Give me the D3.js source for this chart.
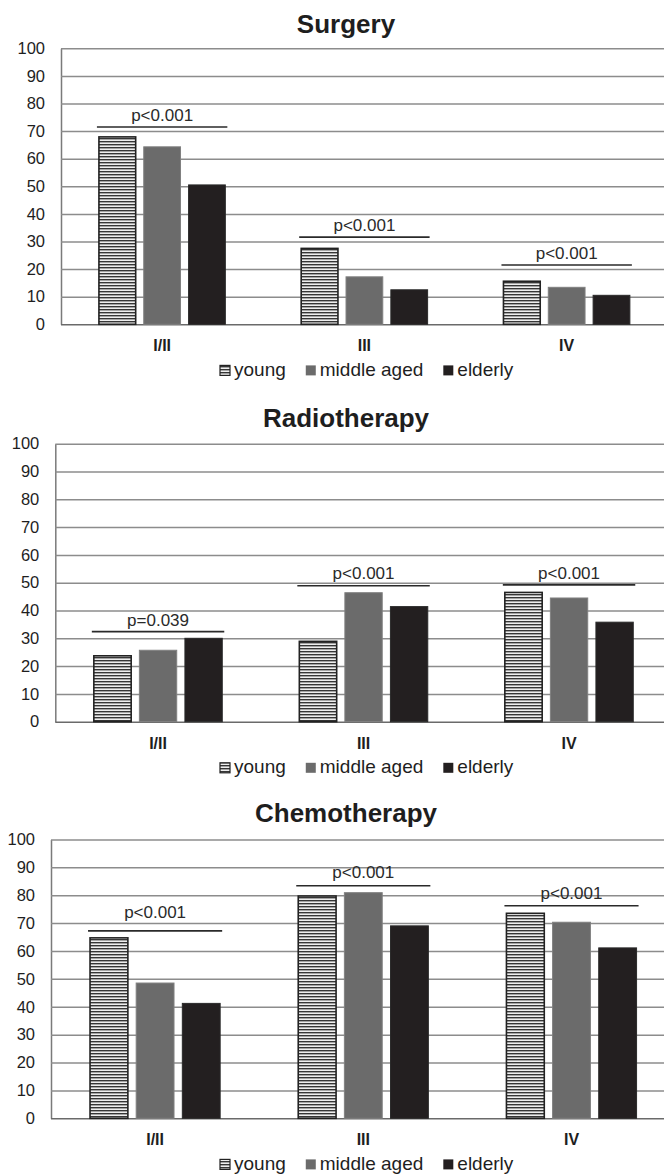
<!DOCTYPE html>
<html>
<head>
<meta charset="utf-8">
<script src="https://cdn.jsdelivr.net/npm/d3@7"></script>
<style>
  body { margin: 0; background: #fff; }
  svg { display: block; font-family: "Liberation Sans", Arial, sans-serif; }
</style>
</head>
<body>
<svg id="chart" width="664" height="1175"></svg>
<script>
// Categories and series
const stages = ["I/II", "III", "IV"];
const groups = ["young", "middle aged", "elderly"];
const yTicks = [0, 10, 20, 30, 40, 50, 60, 70, 80, 90, 100];

// Percentages per stage: [young, middle aged, elderly]
const surgeryValues = [[67.9, 64.3, 50.5], [27.5, 17.2, 12.5], [15.6, 13.4, 10.5]];
const radioValues   = [[23.7, 25.7, 30.0], [28.9, 46.4, 41.4], [46.5, 44.5, 35.8]];
const chemoValues   = [[64.7, 48.5, 41.2], [79.7, 80.9, 69.0], [73.5, 70.3, 61.1]];

// Significance annotations (text, bracket level, label level in data units)
const surgeryP = ["p<0.001", "p<0.001", "p<0.001"];
const radioP   = ["p=0.039", "p<0.001", "p<0.001"];
const chemoP   = ["p<0.001", "p<0.001", "p<0.001"];
const surgeryLine = [71.5, 31.6, 21.5];
const radioLine   = [32.4, 48.9, 49.2];
const chemoLine   = [67.2, 83.4, 76.2];
const surgeryLabel = [73.7, 33.8, 23.7];
const radioLabel   = [34.5, 51.5, 51.5];
const chemoLabel   = [71.7, 86.0, 78.5];

const panels = [
  { title: "Surgery", values: surgeryValues, p: surgeryP, line: surgeryLine, label: surgeryLabel,
    titleY: 32.5, top: 48.3, bottom: 324.3, left: 61, right: 667.8 },
  { title: "Radiotherapy", values: radioValues, p: radioP, line: radioLine, label: radioLabel,
    titleY: 427, top: 443.7, bottom: 721.7, left: 55.3, right: 671.8 },
  { title: "Chemotherapy", values: chemoValues, p: chemoP, line: chemoLine, label: chemoLabel,
    titleY: 822, top: 839.4, bottom: 1118.3, left: 51, right: 675.6 }
];

const fills = { "middle aged": "#6b6b6b", "elderly": "#231f20" };

const svg = d3.select("#chart");

// striped pattern for the "young" bars
const defs = svg.append("defs");
const pat = defs.append("pattern")
  .attr("id", "stripes")
  .attr("patternUnits", "userSpaceOnUse")
  .attr("width", 6).attr("height", 3);
pat.append("rect").attr("width", 6).attr("height", 3).attr("fill", "#eeeeee");
pat.append("rect").attr("width", 6).attr("height", 1.4).attr("fill", "#363636");

function fillFor(g) {
  return g === "young" ? "url(#stripes)" : fills[g];
}

panels.forEach(p => {
  const y = d3.scaleLinear().domain([0, 100]).range([p.bottom, p.top]);
  const x0 = d3.scaleBand().domain(stages).range([p.left, p.right]);
  const bw = x0.bandwidth();
  const gw = bw * 0.625;
  const x1 = d3.scaleBand().domain(groups).range([0, gw]).paddingInner(0.18);
  const off = (bw - gw) / 2;

  const g = svg.append("g");

  // gridlines via axis
  const yAxis = d3.axisLeft(y).tickValues(yTicks)
    .tickSize(-(p.right - p.left)).tickSizeOuter(0).tickPadding(16);
  const ax = g.append("g")
    .attr("transform", `translate(${p.left},0)`)
    .call(yAxis);
  ax.select(".domain").attr("stroke", "#7a7a7a").attr("stroke-width", 1.5);
  ax.selectAll(".tick line")
    .attr("stroke", d => d === 0 ? "#6a6a6a" : "#8c8c8c")
    .attr("stroke-width", 1.5);
  ax.selectAll(".tick text")
    .attr("fill", "#1e1e1e")
    .style("font-size", "16.5px")
    .style("font-family", "'Liberation Sans', Arial, sans-serif");

  // title
  g.append("text")
    .attr("x", 346).attr("y", p.titleY)
    .attr("text-anchor", "middle")
    .attr("fill", "#1e1e1e")
    .style("font-size", "26px").style("font-weight", "700")
    .text(p.title);

  // bars
  stages.forEach((s, si) => {
    const sg = g.append("g").attr("transform", `translate(${x0(s) + off},0)`);
    sg.selectAll("rect")
      .data(groups.map((grp, gi) => ({ grp, v: p.values[si][gi] })))
      .enter().append("rect")
      .attr("x", d => x1(d.grp))
      .attr("y", d => y(d.v))
      .attr("width", x1.bandwidth())
      .attr("height", d => y(0) - y(d.v))
      .attr("fill", d => fillFor(d.grp))
      .attr("stroke", d => d.grp === "young" ? "#222" : d.grp === "elderly" ? "#2a2a2a" : "#808080")
      .attr("stroke-width", d => d.grp === "young" ? 1.6 : 1);

    // significance bracket
    const lx1 = x0(s) + off - 2;
    const lx2 = x0(s) + off + gw + 2;
    g.append("line")
      .attr("x1", lx1).attr("x2", lx2)
      .attr("y1", y(p.line[si])).attr("y2", y(p.line[si]))
      .attr("stroke", "#2a2a2a").attr("stroke-width", 1.6);
    g.append("text")
      .attr("x", x0(s) + bw / 2).attr("y", y(p.label[si]))
      .attr("text-anchor", "middle")
      .attr("fill", "#2a2a2a")
      .style("font-size", "17px")
      .text(p.p[si]);

    // category label
    g.append("text")
      .attr("x", x0(s) + bw / 2).attr("y", p.bottom + 27)
      .attr("text-anchor", "middle")
      .attr("fill", "#1e1e1e")
      .style("font-size", "16px").style("font-weight", "700")
      .text(s);
  });

  // legend
  const ly = p.bottom + 51.6;
  let lx = 220;
  groups.forEach(grp => {
    g.append("rect")
      .attr("x", lx).attr("y", ly - 10.5)
      .attr("width", 10).attr("height", 10)
      .attr("fill", fillFor(grp))
      .attr("stroke", grp === "young" ? "#222" : "none")
      .attr("stroke-width", 1.2);
    const t = g.append("text")
      .attr("x", lx + 14).attr("y", ly)
      .attr("fill", "#1e1e1e")
      .style("font-size", "19px")
      .text(grp);
    lx += 14 + t.node().getComputedTextLength() + 20;
  });
});
</script>
</body>
</html>
